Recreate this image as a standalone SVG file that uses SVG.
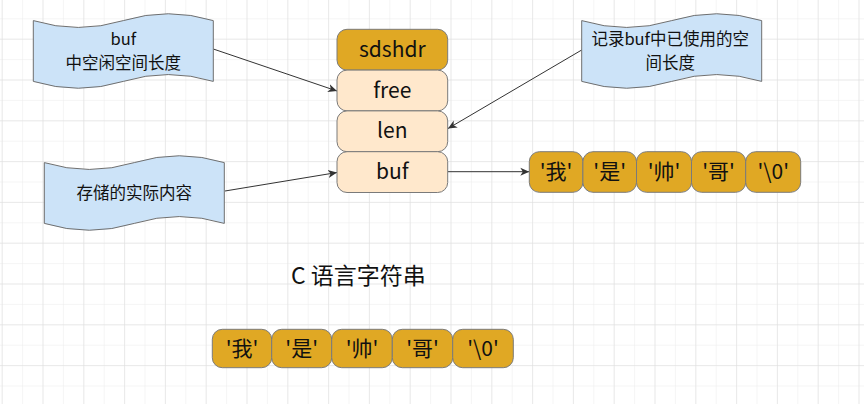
<svg xmlns="http://www.w3.org/2000/svg" xmlns:xlink="http://www.w3.org/1999/xlink" width="864" height="404" viewBox="0 0 864 404">
<style>
text{font-family:"Noto Sans CJK SC","Open Sans",sans-serif;fill:#111;text-anchor:middle}
.box{stroke:#7a7a7a;stroke-width:1}
.dark{fill:#e0a824}
.light{fill:#ffe8cc}
.tape{fill:#cce3f8;stroke:#6f6f6f;stroke-width:1}
.lbl{font-size:21px}
.note{font-size:16.5px}
.conn{stroke:#333;stroke-width:1;fill:none;marker-end:url(#arr)}
</style>
<defs>
<pattern id="minor" patternUnits="userSpaceOnUse" x="1.7" y="-2.1" width="20.4" height="20.4">
<path d="M0 0H20.4M0 0V20.4" stroke="#ececec" stroke-width="1" fill="none"/>
</pattern>
<pattern id="major" patternUnits="userSpaceOnUse" x="1.7" y="-2.1" width="40.8" height="40.8">
<path d="M0 0H40.8M0 0V40.8" stroke="#dedede" stroke-width="1" fill="none"/>
</pattern>
<path id="tapeShape" d="M0 7.6Q45 21.28 90 7.6Q135 -6.08 180 7.6L180 68.4Q135 54.72 90 68.4Q45 82.08 0 68.4Z"/>
<marker id="arr" markerWidth="10" markerHeight="10" refX="9" refY="5" orient="auto" markerUnits="userSpaceOnUse">
<path d="M0 1L9 5L0 9L2.5 5Z" fill="#333"/>
</marker>
</defs>
<rect width="864" height="404" fill="#fff"/>
<rect width="864" height="404" fill="url(#minor)"/>
<rect width="864" height="404" fill="url(#major)"/>

<g id="connectors">
<line class="conn" x1="213.3" y1="49" x2="337" y2="91"/>
<line class="conn" x1="581.7" y1="50" x2="448" y2="128.5"/>
<line class="conn" x1="225" y1="191" x2="337" y2="172.5"/>
<line class="conn" x1="448" y1="171.7" x2="529.3" y2="171.7"/>
</g>

<g id="note-free">
<use xlink:href="#tapeShape" class="tape" transform="translate(33.3 13)"/>
<text class="note" x="123.3" y="45"><tspan x="123.3" y="45">buf</tspan><tspan x="123.3" y="68.5">中空闲空间长度</tspan></text>
</g>
<g id="note-len">
<use xlink:href="#tapeShape" class="tape" transform="translate(581.7 13)"/>
<text class="note" x="670.2" y="45"><tspan x="670.2" y="45">记录buf中已使用的空</tspan><tspan x="670.2" y="68.5">间长度</tspan></text>
</g>
<g id="note-buf">
<use xlink:href="#tapeShape" class="tape" transform="translate(44.3 155)"/>
<text class="note" x="134.3" y="198.5">存储的实际内容</text>
</g>

<g id="sdshdr">
<rect class="box dark" x="337" y="29.3" width="110.7" height="40.8" rx="10"/>
<text class="lbl" x="392.3" y="57">sdshdr</text>
</g>
<g id="free">
<rect class="box light" x="337" y="70.1" width="110.7" height="40.8" rx="10"/>
<text class="lbl" x="392.3" y="97.5">free</text>
</g>
<g id="len">
<rect class="box light" x="337" y="110.9" width="110.7" height="40.8" rx="10"/>
<text class="lbl" x="392.3" y="138.3">len</text>
</g>
<g id="buf">
<rect class="box light" x="337" y="151.7" width="110.7" height="40.8" rx="10"/>
<text class="lbl" x="392.3" y="179.1">buf</text>
</g>

<g id="arr1-0"><rect class="box dark" x="529.3" y="151.7" width="53.6" height="40.6" rx="10"/><text class="lbl" x="556.1" y="179">'我'</text></g>
<g id="arr1-1"><rect class="box dark" x="582.9" y="151.7" width="53.6" height="40.6" rx="10"/><text class="lbl" x="609.7" y="179">'是'</text></g>
<g id="arr1-2"><rect class="box dark" x="636.5" y="151.7" width="55" height="40.6" rx="10"/><text class="lbl" x="664" y="179">'帅'</text></g>
<g id="arr1-3"><rect class="box dark" x="691.5" y="151.7" width="54.2" height="40.6" rx="10"/><text class="lbl" x="718.6" y="179">'哥'</text></g>
<g id="arr1-4"><rect class="box dark" x="745.7" y="151.7" width="55" height="40.6" rx="10"/><text class="lbl" x="773.2" y="179">'\0'</text></g>

<g id="title">
<text x="358.3" y="284" style="font-size:23px">C 语言字符串</text>
</g>

<g id="arr2-0"><rect class="box dark" x="212.3" y="329.3" width="59.4" height="38.4" rx="10"/><text class="lbl" x="242" y="355.5">'我'</text></g>
<g id="arr2-1"><rect class="box dark" x="271.7" y="329.3" width="60" height="38.4" rx="10"/><text class="lbl" x="301.7" y="355.5">'是'</text></g>
<g id="arr2-2"><rect class="box dark" x="331.7" y="329.3" width="60.6" height="38.4" rx="10"/><text class="lbl" x="362" y="355.5">'帅'</text></g>
<g id="arr2-3"><rect class="box dark" x="392.3" y="329.3" width="60.4" height="38.4" rx="10"/><text class="lbl" x="422.5" y="355.5">'哥'</text></g>
<g id="arr2-4"><rect class="box dark" x="452.7" y="329.3" width="60.6" height="38.4" rx="10"/><text class="lbl" x="483" y="355.5">'\0'</text></g>
</svg>
